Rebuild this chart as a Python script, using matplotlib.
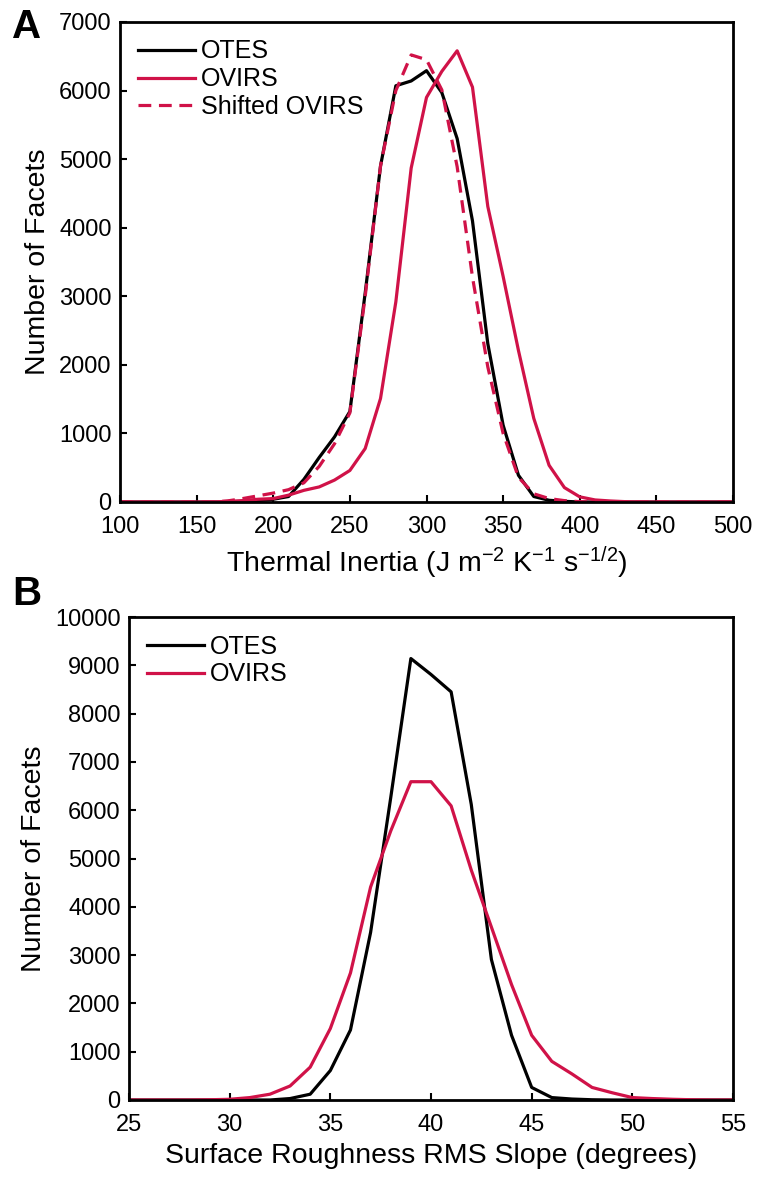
import matplotlib
matplotlib.use("Agg")
import matplotlib.pyplot as plt

# thermal inertia histogram (panel A)
ti = list(range(100, 510, 10))
ti_otes = [0, 0, 0, 0, 0, 0, 0, 0, 10, 20, 40, 80, 330, 650, 950, 1320, 3050, 4900, 6070, 6140,
           6290, 5970, 5300, 4100, 2310, 1120, 390, 80, 25, 10, 0, 0, 0, 0, 0, 0, 0, 0, 0, 0, 0]
ti_ovirs = [0, 0, 0, 0, 0, 0, 0, 10, 20, 40, 50, 100, 170, 220, 320, 460, 780, 1510, 2920, 4870,
            5900, 6280, 6580, 6050, 4310, 3290, 2210, 1220, 535, 210, 75, 30, 15, 5, 0, 0, 0, 0, 0, 0, 0]
ti_shifted = [0, 0, 0, 0, 0, 0, 0, 15, 50, 90, 130, 180, 280, 520, 850, 1300, 3000, 4900, 6000, 6520,
              6450, 6010, 4890, 3280, 1970, 1000, 360, 120, 50, 20, 5, 0, 0, 0, 0, 0, 0, 0, 0, 0, 0]

# roughness histogram (panel B)
rms = list(range(25, 56))
rms_otes = [0, 0, 0, 0, 0, 0, 0, 0, 30, 120, 610, 1450, 3470, 6260, 9140, 8810, 8450, 6120, 2910,
            1340, 260, 50, 20, 5, 0, 0, 0, 0, 0, 0, 0]
rms_ovirs = [0, 0, 0, 0, 5, 15, 50, 120, 290, 680, 1480, 2630, 4410, 5570, 6590, 6590, 6090, 4760,
             3580, 2390, 1340, 800, 540, 260, 150, 50, 30, 15, 5, 0, 0]

plt.rcParams["font.family"] = ["Liberation Sans", "DejaVu Sans"]
plt.rcParams["mathtext.fontset"] = "custom"
plt.rcParams["mathtext.rm"] = "Liberation Sans"
plt.rcParams["mathtext.default"] = "regular"

red = "#d01248"
black = "black"

fig = plt.figure(figsize=(7.58, 11.85), dpi=100)
axA = fig.add_axes([120 / 758, 1 - 502 / 1185, 613 / 758, 480 / 1185])
axB = fig.add_axes([129 / 758, 1 - 1100 / 1185, 604 / 758, 483 / 1185])

axA.plot(ti, ti_otes, color=black, lw=2.3, label="OTES")
axA.plot(ti, ti_ovirs, color=red, lw=2.3, label="OVIRS")
axA.plot(ti, ti_shifted, color=red, lw=2.3, ls=(0, (4, 2.4)), label="Shifted OVIRS")
axA.set_xlim(100, 500)
axA.set_ylim(0, 7000)
axA.set_xticks(range(100, 501, 50))
axA.set_yticks(range(0, 7001, 1000))
axA.set_xlabel("Thermal Inertia (J m$^{-2}$ K$^{-1}$ s$^{-1/2}$)", fontsize=20.5)
axA.set_ylabel("Number of Facets", fontsize=20.5)

axB.plot(rms, rms_otes, color=black, lw=2.3, label="OTES")
axB.plot(rms, rms_ovirs, color=red, lw=2.3, label="OVIRS")
axB.set_xlim(25, 55)
axB.set_ylim(0, 10000)
axB.set_xticks(range(25, 56, 5))
axB.set_yticks(range(0, 10001, 1000))
axB.set_xlabel("Surface Roughness RMS Slope (degrees)", fontsize=20.5)
axB.set_ylabel("Number of Facets", fontsize=20.5)

for ax in (axA, axB):
    for s in ax.spines.values():
        s.set_linewidth(2)
    ax.tick_params(direction="in", length=5, width=1.5, labelsize=17, top=False, right=False)
    ax.tick_params(axis="x", pad=10)
    ax.tick_params(axis="y", pad=6)
    ax.xaxis.labelpad = 5
    ax.yaxis.labelpad = 6
    ax.legend(loc="upper left", frameon=False, fontsize=18, handlelength=2.3, handletextpad=0.25,
              labelspacing=0.15, borderaxespad=0.4, borderpad=0.3)

fig.text(12 / 758, 1 - 38 / 1185, "A", fontsize=29, fontweight="bold", va="baseline")
fig.text(12 / 758, 1 - 605 / 1185, "B", fontsize=29, fontweight="bold", va="baseline")

fig.savefig("out.png", dpi=100)
